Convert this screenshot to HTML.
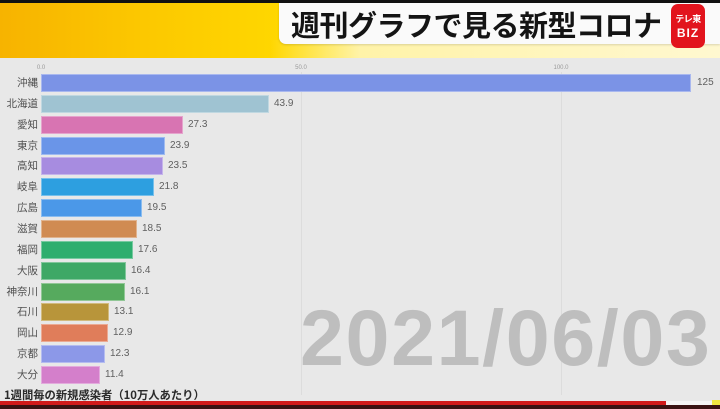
<!DOCTYPE html>
<html><head><meta charset="utf-8"><style>
*{margin:0;padding:0;box-sizing:border-box}
body{width:720px;height:409px;overflow:hidden;background:#e8e8e8;position:relative;font-family:"Liberation Sans","Noto Sans CJK JP",sans-serif}
.a{position:absolute}
.top{left:0;top:0;width:720px;height:3px;background:#111}
.yel{left:0;top:3px;width:720px;height:55px;background:linear-gradient(90deg,#f7b300 0%,#fcc800 20%,#ffd800 40%,#ffe000 60%,#ffe22a 100%)}
.strip{left:270px;top:40px;width:450px;height:18px;background:linear-gradient(90deg,rgba(255,240,150,0) 0%,#fff3a8 20%,#fff8d0 100%)}
.tbox{left:279px;top:3px;width:441px;height:41px;background:#fafafa;border-bottom-left-radius:7px;box-shadow:0 1px 2px rgba(0,0,0,.15)}
.title{left:291px;top:6px;font-size:29px;font-weight:bold;color:#141414;letter-spacing:-0.5px;font-family:"Noto Sans CJK JP","Liberation Sans",sans-serif;line-height:36px;white-space:nowrap}
.logo{left:671px;top:4px;width:34px;height:44px;background:#e2141d;border-radius:7px}
.logo span{position:absolute;color:#fff;font-weight:bold;width:100%;text-align:center}
.tick{top:65px;font-size:6px;color:#9a9a9a;transform:translateX(-50%)}
.grid{top:72px;width:1px;height:323px;background:#dcdcdc}
.lab{width:38px;text-align:right;left:0;font-size:10.5px;color:#505050;line-height:18px;white-space:nowrap}
.bar{left:41px;height:18px;border:1px solid rgba(255,255,255,.35)}
.val{font-size:10px;color:#606060;line-height:18px}
.date{left:300px;top:298px;font-size:79px;font-weight:bold;color:#bebebe;line-height:79px;letter-spacing:1.6px;white-space:nowrap}
.foot{left:4px;top:388px;font-size:11.3px;font-weight:bold;color:#2a2a2a;line-height:14px;white-space:nowrap;font-family:"Noto Sans CJK JP","Liberation Sans",sans-serif}
.red{left:0;top:401px;width:666px;height:4px;background:#d11a1a}
.wh{left:666px;top:401px;width:48px;height:4px;background:#f4f4f4}
.yl{left:712px;top:400px;width:8px;height:5px;background:#f0e640}
.dk{left:0;top:405px;width:720px;height:4px;background:#3a1212}
</style></head><body>
<div class="a top"></div>
<div class="a yel"></div>
<div class="a strip"></div>
<div class="a tbox"></div>
<div class="a title">週刊グラフで見る新型コロナ</div>
<div class="a logo"><span style="top:8px;font-size:9px;letter-spacing:-0.5px">テレ東</span><span style="top:22px;font-size:12px;letter-spacing:1px">BIZ</span></div>

<div class="a tick" style="left:41px">0.0</div>
<div class="a tick" style="left:301px">50.0</div>
<div class="a tick" style="left:561px">100.0</div>
<div class="a grid" style="left:301px"></div>
<div class="a grid" style="left:561px"></div>

<div class="a date">2021/06/03</div>

<div class="a lab" style="top:74px">沖縄</div><div class="a bar" style="top:74px;width:650px;background:#7b93e6"></div><div class="a val" style="top:74px;left:697px">125</div>
<div class="a lab" style="top:95px">北海道</div><div class="a bar" style="top:95px;width:228px;background:#9fc3d2"></div><div class="a val" style="top:95px;left:274px">43.9</div>
<div class="a lab" style="top:116px">愛知</div><div class="a bar" style="top:116px;width:142px;background:#d874b2"></div><div class="a val" style="top:116px;left:188px">27.3</div>
<div class="a lab" style="top:137px">東京</div><div class="a bar" style="top:137px;width:124px;background:#6a95e8"></div><div class="a val" style="top:137px;left:170px">23.9</div>
<div class="a lab" style="top:157px">高知</div><div class="a bar" style="top:157px;width:122px;background:#a78ce0"></div><div class="a val" style="top:157px;left:168px">23.5</div>
<div class="a lab" style="top:178px">岐阜</div><div class="a bar" style="top:178px;width:113px;background:#2d9fe0"></div><div class="a val" style="top:178px;left:159px">21.8</div>
<div class="a lab" style="top:199px">広島</div><div class="a bar" style="top:199px;width:101px;background:#4b98e8"></div><div class="a val" style="top:199px;left:147px">19.5</div>
<div class="a lab" style="top:220px">滋賀</div><div class="a bar" style="top:220px;width:96px;background:#d08b52"></div><div class="a val" style="top:220px;left:142px">18.5</div>
<div class="a lab" style="top:241px">福岡</div><div class="a bar" style="top:241px;width:92px;background:#2eae6e"></div><div class="a val" style="top:241px;left:138px">17.6</div>
<div class="a lab" style="top:262px">大阪</div><div class="a bar" style="top:262px;width:85px;background:#3ea866"></div><div class="a val" style="top:262px;left:131px">16.4</div>
<div class="a lab" style="top:283px">神奈川</div><div class="a bar" style="top:283px;width:84px;background:#56aa5e"></div><div class="a val" style="top:283px;left:130px">16.1</div>
<div class="a lab" style="top:303px">石川</div><div class="a bar" style="top:303px;width:68px;background:#b8953a"></div><div class="a val" style="top:303px;left:114px">13.1</div>
<div class="a lab" style="top:324px">岡山</div><div class="a bar" style="top:324px;width:67px;background:#e07d5a"></div><div class="a val" style="top:324px;left:113px">12.9</div>
<div class="a lab" style="top:345px">京都</div><div class="a bar" style="top:345px;width:64px;background:#8c98e8"></div><div class="a val" style="top:345px;left:110px">12.3</div>
<div class="a lab" style="top:366px">大分</div><div class="a bar" style="top:366px;width:59px;background:#d47fcb"></div><div class="a val" style="top:366px;left:105px">11.4</div>

<div class="a foot">1週間毎の新規感染者（10万人あたり）</div>
<div class="a red"></div>
<div class="a wh"></div>
<div class="a yl"></div>
<div class="a dk"></div>
</body></html>
